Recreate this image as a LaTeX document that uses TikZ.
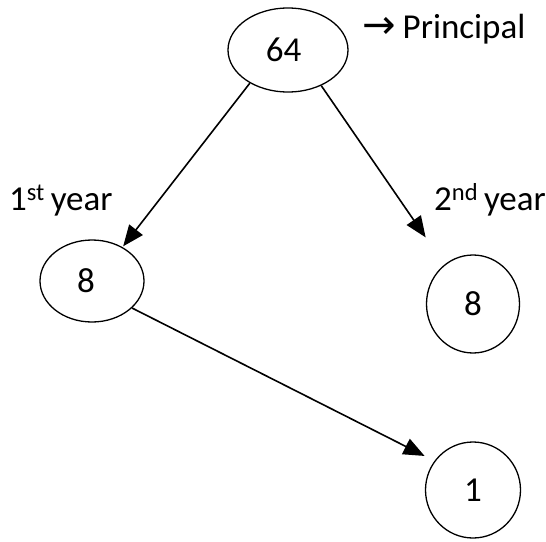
\documentclass[tikz,border=0pt]{standalone}
\usepackage{fontspec}
\setmainfont{Carlito}
\newfontfamily\symfont{DejaVu Sans}
\usetikzlibrary{shapes.geometric,arrows.meta}
\begin{document}
\begin{tikzpicture}[x=1pt,y=-1pt,
  every node/.style={font=\fontsize{35}{40}\selectfont},
  bubble/.style={draw,ellipse,line width=1.3pt,inner sep=0pt},
  link/.style={line width=1.6pt,-{Triangle[length=21pt,width=17pt]}}]
\useasboundingbox (0,0) rectangle (546,541);
% value nodes
\node[bubble,minimum width=120pt,minimum height=84pt] (p) at (288,50) {\hspace*{-9pt}64};
\node[bubble,minimum width=104pt,minimum height=82pt] (a) at (92,281) {\hspace*{-12pt}8};
\node[bubble,minimum width=93pt,minimum height=98pt] (b) at (473,304) {8};
\node[bubble,minimum width=95pt,minimum height=96pt] (c) at (473,490) {1};
% labels
\node[anchor=base west,inner sep=0pt] (lp) at (362,38) {{\symfont\fontsize{40}{44}\selectfont →}\hspace{7pt}Principal};
\node[anchor=base west,inner sep=0pt] (l1) at (9,210) {1\textsuperscript{st}\,year};
\node[anchor=base west,inner sep=0pt] (l2) at (434,210) {2\textsuperscript{nd}\,year};
% connectors
\draw[link,shorten >=1pt] (p.221) -- (a.48);
\draw[link,shorten >=33pt] (p.-47) -- (b.126);
\draw[link,shorten >=11pt] (a.-34) -- (c.143);
\end{tikzpicture}
\end{document}
